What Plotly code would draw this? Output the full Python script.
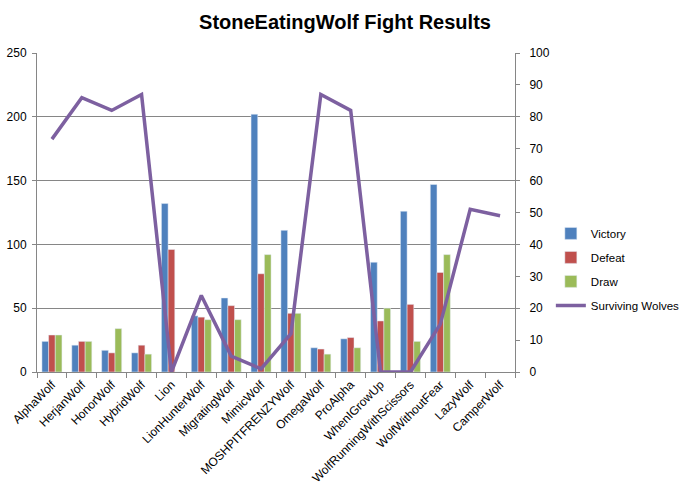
import plotly.graph_objects as go

categories = ["AlphaWolf", "HerjanWolf", "HonorWolf", "HybridWolf", "Lion", "LionHunterWolf",
              "MigratingWolf", "MimicWolf", "MOSHPITFRENZYWolf", "OmegaWolf", "ProAlpha",
              "WhenIGrowUp", "WolfRunningWithScissors", "WolfWithoutFear", "LazyWolf", "CamperWolf"]
victory = [24, 21, 17, 15, 132, 44, 58, 202, 111, 19, 26, 86, 126, 147, None, None]
defeat = [29, 24, 15, 21, 96, 43, 52, 77, 46, 18, 27, 40, 53, 78, None, None]
draw = [29, 24, 34, 14, 0, 41, 41, 92, 46, 14, 19, 50, 24, 92, None, None]
surviving = [73, 86, 82, 87, 0, 24, 5, 1, 12, 87, 82, 0, 0, 15, 51, 49]

font_family = "Liberation Sans, Arial, sans-serif"

fig = go.Figure()
fig.add_trace(go.Bar(x=categories, y=victory, name="Victory", marker_color="#4F81BD", legendgroup="a"))
fig.add_trace(go.Bar(x=categories, y=defeat, name="Defeat", marker_color="#C0504D", legendgroup="b"))
fig.add_trace(go.Bar(x=categories, y=draw, name="Draw", marker_color="#9BBB59", legendgroup="c"))
fig.add_trace(go.Scatter(x=categories, y=surviving, name="Surviving Wolves", mode="lines",
                         line=dict(color="#7D60A0", width=3.5), yaxis="y2", legendgroup="d"))

fig.update_layout(
    width=690, height=490,
    paper_bgcolor="white", plot_bgcolor="white",
    margin=dict(l=37, r=175, t=53, b=118, autoexpand=False),
    font=dict(family=font_family, size=12, color="#000000"),
    title=dict(text="<b>StoneEatingWolf Fight Results</b>", x=0.5, xanchor="center",
               y=0.955, yanchor="middle", font=dict(size=20, family=font_family)),
    barmode="group", bargap=0.33, bargroupgap=0,
    showlegend=True,
    legend=dict(x=1.075, y=0.48, xanchor="left", yanchor="top", bgcolor="rgba(0,0,0,0)",
                font=dict(size=11.5), tracegroupgap=5, itemwidth=30),
    xaxis=dict(type="category", showline=True, linecolor="#868686", linewidth=1,
               ticks="outside", tickson="boundaries", ticklen=5, tickcolor="#868686",
               tickangle=-45, showgrid=False, tickfont=dict(size=12), automargin=False),
    yaxis=dict(range=[0, 250], dtick=50, showline=True, linecolor="#868686",
               ticks="outside", ticklen=4, tickcolor="#868686", ticklabelstandoff=3,
               showgrid=True, gridcolor="#868686", gridwidth=1, zeroline=False,
               tickfont=dict(size=12), automargin=False),
    yaxis2=dict(range=[0, 100], dtick=10, overlaying="y", side="right", showline=True,
                linecolor="#868686", ticks="outside", ticklen=4, tickcolor="#868686",
                ticklabelstandoff=7,
                showgrid=False, zeroline=False, tickfont=dict(size=12), automargin=False),
)

fig.write_html("out.html", config={"displayModeBar": False},
               post_script="document.body.style.margin='0';document.body.style.overflow='hidden';")
